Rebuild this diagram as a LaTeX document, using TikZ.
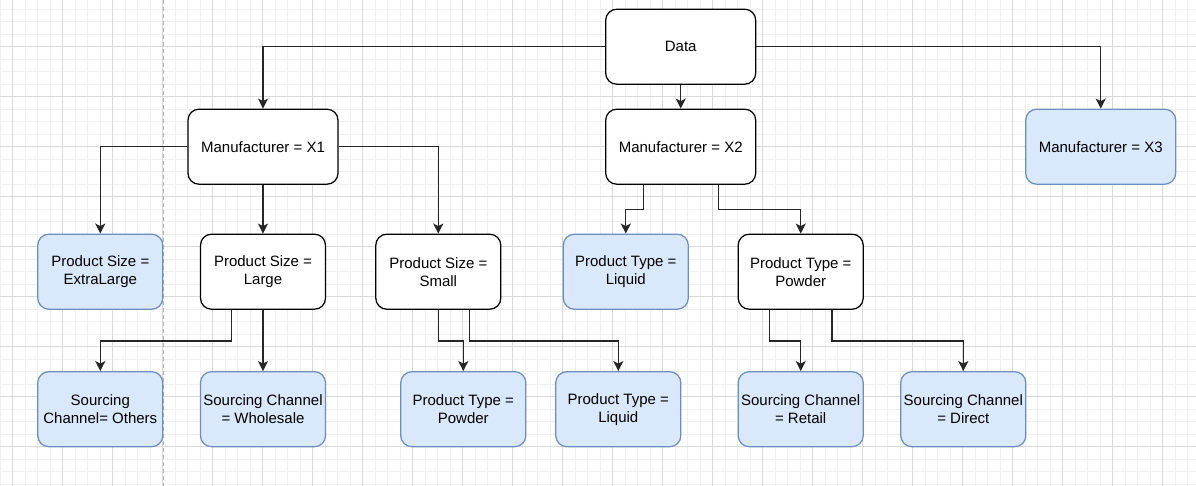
\documentclass[tikz,border=0pt]{standalone}
\usepackage{fontspec}
\setmainfont{Liberation Sans}
\usetikzlibrary{arrows.meta}
\definecolor{leaffill}{HTML}{DAE8FC}
\definecolor{leafdraw}{HTML}{6C8EBF}

\begin{document}
\begin{tikzpicture}[
      x=1pt,y=-1pt,
      box/.style={rectangle,draw,line width=1.25pt,rounded corners=11pt,fill=white,
        minimum width=150pt,minimum height=75pt,inner sep=0pt,align=center,
        font=\fontsize{15}{18}\selectfont},
      small box/.style={box,minimum width=125pt},
      leaf/.style={fill=leaffill,draw=leafdraw},
      branch/.style={line width=1.35pt,draw=black!85,-{Stealth[length=10pt,width=10pt,inset=2.5pt]}},
      grid minor/.style={black!6,line width=0.8pt},
      grid major/.style={black!15,line width=0.8pt},
      page break/.style={black!30,line width=1pt,dash pattern=on 4pt off 3pt},
    ]
    \useasboundingbox[fill=white] (0,0) rectangle (1196,486);
    \begin{scope}
      \clip (0,0) rectangle (1196,486);
      \foreach \x in {0.2,12.7,...,1196} \draw[grid minor] (\x,0) -- (\x,486);
      \foreach \y in {9.2,21.7,...,486} \draw[grid minor] (0,\y) -- (1196,\y);
      \foreach \x in {12.7,62.7,...,1196} \draw[grid major] (\x,0) -- (\x,486);
      \foreach \y in {46.7,96.7,...,486} \draw[grid major] (0,\y) -- (1196,\y);
      \draw[page break] (163.3,0) -- (163.3,486);
    \end{scope}
    % tree
    \node[box] (Data) at (680.7,46.7) {Data};
    \node[box] (X1) at (263,146.7) {Manufacturer = X1};
    \node[box] (X2) at (680.7,146.7) {Manufacturer = X2};
    \node[box,leaf] (X3) at (1100.7,146.7) {Manufacturer = X3};
    \node[small box,leaf] (Extra Large) at (100.3,271.7) {Product Size =\\ExtraLarge};
    \node[small box] (Large) at (263,271.7) {Product Size =\\Large};
    \node[small box] (Small) at (438.3,271.7) {Product Size =\\Small};
    \node[small box,leaf] (Liquid) at (625.8,271.7) {Product Type =\\Liquid};
    \node[small box] (Powder) at (800.7,271.7) {Product Type =\\Powder};
    \node[small box,leaf] (Others) at (100.3,409.2) {Sourcing\\Channel= Others};
    \node[small box,leaf] (Wholesale) at (263,409.2) {Sourcing Channel\\= Wholesale};
    \node[small box,leaf] (Small Powder) at (463.3,409.2) {Product Type =\\Powder};
    \node[small box,leaf] (Small Liquid) at (618.3,409.2) {Product Type =\\Liquid};
    \node[small box,leaf] (Retail) at (800.7,409.2) {Sourcing Channel\\= Retail};
    \node[small box,leaf] (Direct) at (963.3,409.2) {Sourcing Channel\\= Direct};
    \draw[branch] (Data.west) -| (X1.north);
    \draw[branch] (Data.east) -| (X3.north);
    \draw[branch] (Data.south) -- (X2.north);
    \draw[branch] (X1.west) -| (Extra Large.north);
    \draw[branch] (X1.south) -- (Large.north);
    \draw[branch] (X1.east) -| (Small.north);
    \draw[branch] ([xshift=-37.5pt]X2.south) -- ++(0,25) -| (Liquid.north);
    \draw[branch] ([xshift=37.5pt]X2.south) -- ++(0,25) -| (Powder.north);
    \draw[branch] ([xshift=-31.25pt]Large.south) -- ++(0,31) -| (Others.north);
    \draw[branch] (Large.south) -- (Wholesale.north);
    \draw[branch] (Small.south) -- ++(0,31) -| (Small Powder.north);
    \draw[branch] ([xshift=31pt]Small.south) -- ++(0,31) -| (Small Liquid.north);
    \draw[branch] ([xshift=-31.25pt]Powder.south) -- ++(0,31) -| (Retail.north);
    \draw[branch] ([xshift=31.25pt]Powder.south) -- ++(0,31) -| (Direct.north);
  \end{tikzpicture}
\end{document}
